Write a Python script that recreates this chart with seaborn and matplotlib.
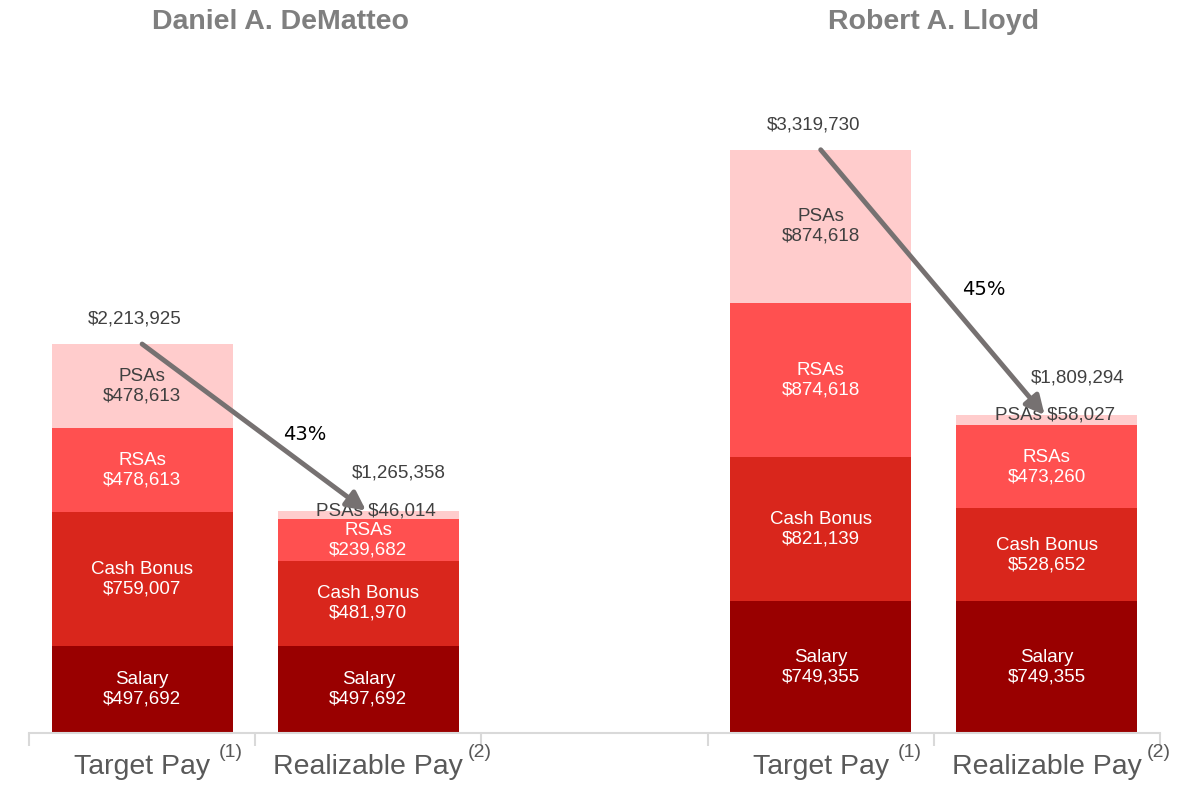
import matplotlib
matplotlib.use("Agg")
import matplotlib.pyplot as plt
import seaborn as sns
import pandas as pd

# ---- data ----
people = ["Daniel A. DeMatteo", "Robert A. Lloyd"]
bar_keys = ["DeMatteo Target", "DeMatteo Realizable", "Lloyd Target", "Lloyd Realizable"]
bar_labels = ["Target Pay", "Realizable Pay", "Target Pay", "Realizable Pay"]
bar_notes = ["(1)", "(2)", "(1)", "(2)"]
components = ["Salary", "Cash Bonus", "RSAs", "PSAs"]
salary = [497692, 497692, 749355, 749355]
cash_bonus = [759007, 481970, 821139, 528652]
rsas = [478613, 239682, 874618, 473260]
psas = [478613, 46014, 874618, 58027]
drop_labels = ["43%", "45%"]

colors = ["#990000", "#D9261C", "#FF5050", "#FFCCCC"]
label_colors = ["white", "white", "white", "#404040"]

df = pd.DataFrame({"bar": bar_keys, "Salary": salary, "Cash Bonus": cash_bonus,
                   "RSAs": rsas, "PSAs": psas})
order = bar_keys[:2] + [" "] + bar_keys[2:]
cum = df[components].cumsum(axis=1)
df["total"] = cum["PSAs"]

sns.set_style("white")
plt.rcParams["font.family"] = ["Liberation Sans", "DejaVu Sans"]

fig = plt.figure(figsize=(11.87, 7.98), dpi=100)
ax = fig.add_axes([29 / 1187, 65 / 798, 1131 / 1187, 733 / 798])

# stacked bars: draw cumulative heights from the top layer down
for comp, col in reversed(list(zip(components, colors))):
    tmp = pd.DataFrame({"bar": df["bar"], "h": cum[comp]})
    sns.barplot(data=tmp, x="bar", y="h", order=order, color=col, saturation=1,
                width=0.8, errorbar=None, linewidth=0, ax=ax)

ax.set_xlim(-0.5, 4.5)
ax.set_ylim(0, 4172000)
xpos = {k: order.index(k) for k in bar_keys}

# segment labels
for i, key in enumerate(bar_keys):
    x = xpos[key]
    bottom = 0
    for comp, lc in zip(components, label_colors):
        v = df.loc[i, comp]
        if v > 150000:
            ax.text(x, bottom + v / 2, f"{comp}\n${v:,}", ha="center", va="center",
                    color=lc, fontsize=13.5, linespacing=1.2)
        else:
            ax.text(x + 0.035, bottom + v, f"{comp} ${v:,}", ha="center", va="center",
                    color="#404040", fontsize=13.5)
        bottom += v

# totals
for i, key in enumerate(bar_keys):
    dx, dy = ((-5, 18) if "Target" in key else (22, 27))
    ax.annotate(f"${df.loc[i, 'total']:,}", (xpos[key], df.loc[i, "total"]),
                xytext=(dx, dy), textcoords="offset points", ha="center",
                va="center", fontsize=13.5, color="#404040")

# arrows target -> realizable
for g in range(2):
    a, b = bar_keys[2 * g], bar_keys[2 * g + 1]
    ya, yb = df.loc[2 * g, "total"], df.loc[2 * g + 1, "total"]
    ax.annotate("", xy=(xpos[b] - 0.01, yb), xytext=(xpos[a], ya),
                arrowprops=dict(arrowstyle="-|>", lw=3.5, color="#767171",
                                mutation_scale=28, shrinkA=0, shrinkB=0))
    ax.annotate(drop_labels[g], ((xpos[a] + xpos[b]) / 2, (ya + yb) / 2),
                xytext=(36, -5), textcoords="offset points", ha="center",
                va="center", fontsize=14, color="black", family="DejaVu Sans")

# person titles
title_x = [0.61, 3.5]
for name, tx in zip(people, title_x):
    ax.text(tx, 0.97, name, transform=ax.get_xaxis_transform(), ha="center",
            va="center", fontsize=20.5, fontweight="bold", color="#7F7F7F")

# x axis: boundary ticks, category labels with footnote marks
sns.despine(ax=ax, left=True)
ax.spines["bottom"].set_color("#D9D9D9")
ax.spines["bottom"].set_linewidth(1.5)
ax.set_yticks([])
ax.set_ylabel("")
ax.set_xlabel("")
ax.set_xticks([xpos[k] for k in bar_keys])
ax.set_xticklabels(bar_labels, fontsize=20.5, color="#595959")
ax.tick_params(axis="x", length=0, pad=15)
ax.set_xticks([-0.5, 0.5, 1.5, 2.5, 3.5, 4.5], minor=True)
ax.tick_params(axis="x", which="minor", bottom=True, length=9, width=1.5,
               color="#D9D9D9", direction="out")

for key, lab, note in zip(bar_keys, bar_labels, bar_notes):
    off = 0.34 if lab == "Target Pay" else 0.44
    ax.text(xpos[key] + off, -0.027, note, transform=ax.get_xaxis_transform(),
            ha="left", va="center", fontsize=14, color="#595959")

fig.savefig("out.png", dpi=100)
